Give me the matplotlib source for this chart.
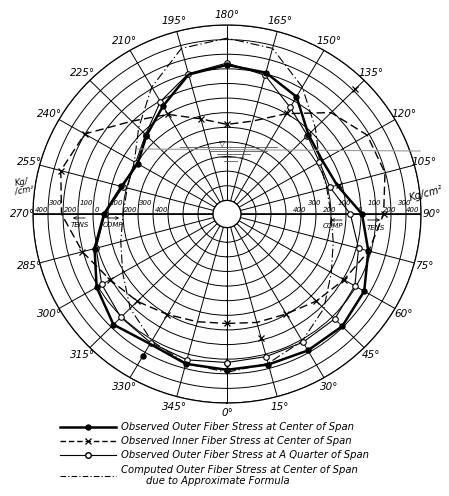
import numpy as np
import matplotlib
matplotlib.use("Agg")
import matplotlib.pyplot as plt
import matplotlib.transforms as mtransforms
from matplotlib.patches import FancyArrowPatch

# ---------------- data (kg/cm^2, + = tension, - = compression) ----------------
ANGLES = [0, 15, 30, 45, 60, 75, 90, 105, 120, 135, 150, 165,
          180, 195, 210, 225, 240, 255, 270, 285, 300, 315, 330, 345]
THETA_LABELS = [f"{a}°" for a in ANGLES]
RADIAL_TICKS = list(range(-800, 401, 100))
TENS_VALUES = [400, 300, 200, 100, 0]
TENS_LABELS = ["400", "300", "200", "100", "0"]
COMP_VALUES = [-100, -200, -300, -400]
COMP_LABELS = ["100", "200", "300", "400"]

# Observed outer fiber stress at center of span (thick line, filled dots)
outer_center_line = [173, 173, 185, 193, 163, 82, 7, -133, -160, -125, 33, 108,
                     127, 95, -40, -134, -205, -165, -73, 21, 110, 177, 133, 168]
outer_center_mark_angles = [0, 15, 30, 45, 60, 75, 90, 135, 150, 165, 180,
                            210, 225, 240, 255, 270, 285, 300, 315, 330, 345]
outer_center_mark_values = [173, 173, 185, 193, 163, 82, 7, -125, 33, 108, 127,
                            -40, -134, -205, -165, -73, 21, 110, 177, 228, 168]

# Observed inner fiber stress at center of span (dashed, x)
inner_center_line = [-144, -125, -103, -51, 7, 85, 151, 197, 186, 88, -100, -235,
                     -280, -219, -106, 5, 202, 254, 210, 105, 7, -48, -99, -130]
inner_center_mark_angles = [0, 15, 30, 45, 60, 90, 105, 135, 150, 180, 195,
                            210, 240, 255, 285, 300, 315, 330]
inner_center_mark_values = [-144, -15, -103, -51, 7, 151, -118, 313, -93, -280,
                            -219, -106, 202, 254, 105, 7, -48, -99]

# Observed outer fiber stress at a quarter of span (thin line, open circles)
outer_quarter = [123, 117, 120, 122, 91, 15, -71, -183, -182, -135, -51, 89,
                 140, 101, -5, -125, -190, -175, -80, 10, 71, 107, 124, 140]

# Computed outer fiber stress at center of span (approximate formula)
computed_center = [190, 165, 110, 20, -90, -160, -200, -205, -180, -60, 110, 280,
                   310, 280, 110, -60, -180, -205, -200, -160, -90, 20, 110, 165]

# ---------------- figure ----------------
W, H = 449, 496
fig = plt.figure(figsize=(W / 100, H / 100), dpi=100)
fig.patch.set_facecolor("white")
plt.rcParams["font.family"] = ["DejaVu Sans"]


def px(x, y):
    return (x / W, 1 - y / H)


cx, cy, RX, RY = 227, 214, 194, 189
ax = fig.add_axes([(cx - RX) / W, (H - cy - RY) / H, 2 * RX / W, 2 * RY / H],
                  projection="polar")
ax.set_aspect("auto")
ax.set_theta_zero_location("S")
ax.set_theta_direction(1)
ax.set_ylim(-800, 400)
ax.set_rorigin(-893)
ax.set_yticks(RADIAL_TICKS)
ax.set_yticklabels([])
ax.set_thetagrids(ANGLES, THETA_LABELS, fontsize=7.5, fontstyle="italic")
ax.tick_params(axis="x", pad=-3)
ax.grid(True, color="black", lw=0.7)
for sp in ax.spines.values():
    sp.set_linewidth(0.9)
ax.axvline(np.deg2rad(90), color="black", lw=1.2)
ax.axvline(np.deg2rad(270), color="black", lw=1.2)


def closed(angles, values):
    a = np.deg2rad(list(angles) + [angles[0]])
    v = list(values) + [values[0]]
    return a, v


# computed (dash-dot)
a, v = closed(ANGLES, computed_center)
ax.plot(a, v, color="black", lw=0.8, ls=(0, (8, 2.5, 1.2, 2.5)))

# inner fiber (dashed)
a, v = closed(ANGLES, inner_center_line)
ax.plot(a, v, color="black", lw=1.0, ls=(0, (6, 3)))
ax.plot(np.deg2rad(inner_center_mark_angles), inner_center_mark_values,
        ls="none", marker="x", ms=4.5, mew=0.9, color="black")

# quarter span (thin solid + open circles)
a, v = closed(ANGLES, outer_quarter)
ax.plot(a, v, color="black", lw=0.8, marker="o", ms=4,
        mfc="white", mec="black", mew=0.8)

# center span outer fiber (thick solid + filled dots)
a, v = closed(ANGLES, outer_center_line)
ax.plot(a, v, color="black", lw=1.8)
ax.plot(np.deg2rad(outer_center_mark_angles), outer_center_mark_values,
        ls="none", marker="o", ms=3.6, color="black")

# radial scale labels along 270 / 90 degrees (staggered like the original)
for ang, dx, ha in ((270, 1, "left"), (90, -1, "center")):
    vals = TENS_VALUES + COMP_VALUES
    labs = TENS_LABELS + COMP_LABELS
    for i, (val, lab) in enumerate(zip(vals, labs)):
        dy = 1 if i % 2 == 0 else 6
        this_ha = "right" if (ang == 90 and i == 0) else ha
        tr = mtransforms.offset_copy(ax.transData, fig=fig, x=dx, y=dy, units="points")
        ax.text(np.deg2rad(ang), val, lab, transform=tr, ha=this_ha, va="bottom",
                fontsize=5, fontstyle="italic", clip_on=False, zorder=5)

# units
fig.text(*px(22, 186), "Kg/\n /cm²", fontsize=6, fontstyle="italic",
         ha="center", va="center", rotation=10, linespacing=0.9)
fig.text(*px(426, 194), "Kg/cm²", fontsize=7, fontstyle="italic",
         ha="center", va="center", rotation=15)


# TENS / COMP arrows
def arrow(x0, x1, y):
    fig.add_artist(FancyArrowPatch(
        px(x0, y), px(x1, y), transform=fig.transFigure,
        arrowstyle="->", mutation_scale=5, lw=0.6, color="black"))


fig.text(*px(80, 225), "TENS", fontsize=5, fontstyle="italic", ha="center", va="center")
arrow(88, 70, 218)
fig.text(*px(113, 225), "COMP", fontsize=5, fontstyle="italic", ha="center", va="center")
arrow(104, 122, 218)
fig.text(*px(333, 226), "COMP", fontsize=5, fontstyle="italic", ha="center", va="center")
arrow(345, 328, 220)
fig.text(*px(376, 228), "TENS", fontsize=5, fontstyle="italic", ha="center", va="center")
arrow(365, 383, 220)

# water level
fig.add_artist(plt.Line2D([138 / W, 420 / W], [1 - 149 / H, 1 - 151 / H],
                          transform=fig.transFigure, color="#999999", lw=0.8))
for (x0, x1, y) in [(180, 277, 147), (210, 267, 151), (217, 250, 154),
                    (221, 243, 157), (224, 237, 161)]:
    fig.add_artist(plt.Line2D([x0 / W, x1 / W], [1 - y / H, 1 - y / H],
                              transform=fig.transFigure, color="#555555", lw=0.6))
fig.text(*px(222, 143), "▽", fontsize=6, ha="center", va="center")

# legend
handles = [
    plt.Line2D([], [], color="black", lw=1.8, marker="o", ms=3.6),
    plt.Line2D([], [], color="black", lw=1.0, ls=(0, (4, 2)), marker="x", ms=4.5, mew=0.9),
    plt.Line2D([], [], color="black", lw=0.8, marker="o", ms=4, mfc="white", mec="black"),
    plt.Line2D([], [], color="black", lw=0.8, ls=(0, (5, 2, 1, 2))),
]
labels = [
    "Observed Outer Fiber Stress at Center of Span",
    "Observed Inner Fiber Stress at Center of Span",
    "Observed Outer Fiber Stress at A Quarter of Span",
    "Computed Outer Fiber Stress at Center of Span\n        due to Approximate Formula",
]
fig.legend(handles, labels, loc="upper left", bbox_to_anchor=px(56, 418),
           frameon=False, numpoints=1, handlelength=5.6, handletextpad=0.5,
           labelspacing=0.42, borderaxespad=0,
           prop={"size": 7.2, "style": "italic"})

fig.savefig("out.png", dpi=100)
